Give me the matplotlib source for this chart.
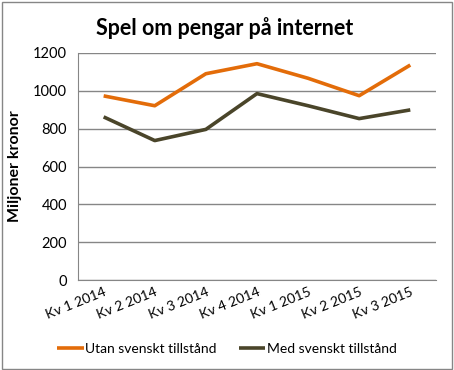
import matplotlib.pyplot as plt
from matplotlib.patches import Rectangle

kvartal = ['Kv 1 2014', 'Kv 2 2014', 'Kv 3 2014', 'Kv 4 2014', 'Kv 1 2015', 'Kv 2 2015', 'Kv 3 2015']
utan = [973, 921, 1090, 1143, 1066, 974, 1136]
med = [862, 737, 796, 985, 921, 853, 899]

plt.rcParams['font.family'] = ['Lato', 'DejaVu Sans']

fig = plt.figure(figsize=(4.54, 3.70), dpi=100)
ax = fig.add_axes([0.172, 0.243, 0.788, 0.614])

x = range(len(kvartal))
ax.plot(x, utan, color='#E36C09', lw=2.6, solid_capstyle='butt', label='Utan svenskt tillstånd')
ax.plot(x, med, color='#4A452A', lw=2.6, solid_capstyle='butt', label='Med svenskt tillstånd')

ax.set_xlim(-0.5, len(kvartal) - 0.5)
ax.set_ylim(0, 1200)
ax.set_yticks(range(0, 1201, 200))
ax.yaxis.grid(True, color='#868686', lw=1)
ax.set_axisbelow(True)
for s in ['top', 'right']:
    ax.spines[s].set_visible(False)
ax.spines['left'].set_color('#868686')
ax.spines['bottom'].set_color('#868686')
ax.tick_params(axis='y', length=0, labelsize=10.5, pad=8)
ax.tick_params(axis='x', length=0, labelsize=10, pad=4)
ax.set_xticks(list(x))
ax.set_xticklabels(kvartal, rotation=22, ha='right', rotation_mode='anchor')

ax.set_ylabel('Miljoner kronor', fontsize=11.5, fontweight='bold', labelpad=8)
fig.text(0.495, 0.925, 'Spel om pengar på internet', ha='center', va='center',
         fontsize=15.5, fontweight='bold')

fig.legend(loc='center', bbox_to_anchor=(0.5, 0.058), ncol=2, frameon=False,
           fontsize=10, handlelength=1.9, handletextpad=0.1, columnspacing=1.6)

fig.patches.append(Rectangle((0.004, 0.004), 0.992, 0.99, transform=fig.transFigure,
                             fill=False, edgecolor='#868686', lw=1))

fig.savefig('out.png', dpi=100)
